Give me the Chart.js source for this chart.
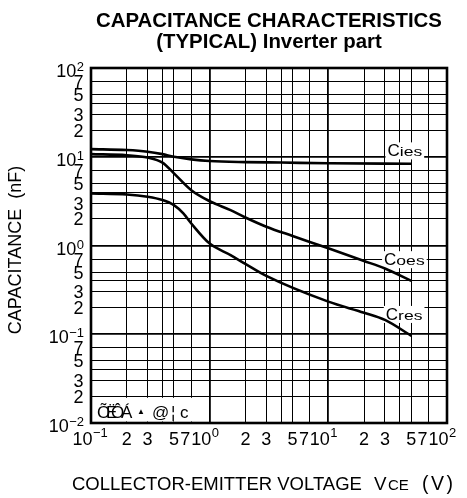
<!DOCTYPE html>
<html><head><meta charset="utf-8">
<script src="https://cdn.jsdelivr.net/npm/chart.js@4/dist/chart.umd.min.js"></script>
<style>html,body{margin:0;padding:0;background:#fff}#wrap{width:467px;height:498px}</style>
</head><body><div id="wrap"><canvas id="c" width="467" height="498"></canvas></div>
<script>
// ---- data ----
const ciesV = [0.1, 0.2, 0.3, 0.4, 0.5, 0.7, 1, 2, 4, 10, 50];
const ciesC = [12.2, 11.9, 11.4, 10.7, 10.0, 9.35, 8.95, 8.7, 8.6, 8.45, 8.35];
const coesV = [0.1, 0.2, 0.3, 0.4, 0.5, 0.7, 1, 1.5, 2, 3, 5, 10, 20, 30, 50];
const coesC = [10.7, 10.4, 9.8, 8.6, 6.5, 4.2, 3.16, 2.5, 2.07, 1.63, 1.28, 0.93, 0.67, 0.55, 0.40];
const cresV = [0.1, 0.2, 0.3, 0.4, 0.5, 0.6, 0.7, 1, 1.5, 2, 3, 10, 20, 30, 50];
const cresC = [3.86, 3.76, 3.54, 3.25, 2.85, 2.3, 1.77, 1.05, 0.78, 0.62, 0.454, 0.233, 0.175, 0.145, 0.096];
const seriesNames = ['Cies', 'Coes', 'Cres'];

const xTickValues = [0.1,0.2,0.3,0.4,0.5,0.7,1,2,3,4,5,7,10,20,30,40,50,70,100];
const xTickLabels = ['10^-1','2','3','','5','7','10^0','2','3','','5','7','10^1','2','3','','5','7','10^2'];
const yTickValues = [0.01,0.02,0.03,0.04,0.05,0.07,0.1,0.2,0.3,0.4,0.5,0.7,1,2,3,4,5,7,10,20,30,40,50,70,100];
const yTickLabels = ['10^-2','2','3','','5','7','10^-1','2','3','','5','7','10^0','2','3','','5','7','10^1','2','3','','5','7','10^2'];

const titleLines = ['CAPACITANCE CHARACTERISTICS', '(TYPICAL) Inverter part'];
const xTitle = ['COLLECTOR-EMITTER VOLTAGE', 'V', 'CE', '(V)'];
const yTitle = 'CAPACITANCE  (nF)';
const noteText = ['Õ','Ë','Ô','Á','▲','@','¦','c'];

const FONT = '"Liberation Sans", Arial, sans-serif';
const isDecade = v => Math.abs(Math.log10(v) - Math.round(Math.log10(v))) < 1e-9;

function mk(vs, cs){ return vs.map((v,i)=>({x:v, y:cs[i]})); }

const textPlugin = {
  id: 'textPlugin',
  beforeDatasetsDraw(chart){
    const {ctx, chartArea:a, scales:{x, y}} = chart;
    ctx.save();
    // series labels (white boxes hide grid, curves drawn on top)
    const labPos = [[31.5, 10.1], [29.5, 0.60], [30.5, 0.145]];
    seriesNames.forEach((name, i) => {
      const px = x.getPixelForValue(labPos[i][0]);
      const py = y.getPixelForValue(labPos[i][1]);
      ctx.font = '17px ' + FONT;
      const wC = ctx.measureText('C').width;
      ctx.font = '13px ' + FONT;
      const sub = name.slice(1);
      const sx = 1.35;
      const wS = ctx.measureText(sub).width * sx;
      ctx.fillStyle = '#fff';
      ctx.fillRect(px - 2, py - 14, wC + wS + 4, 17);
      ctx.fillStyle = '#000';
      ctx.font = '17px ' + FONT; ctx.textAlign = 'left'; ctx.textBaseline = 'alphabetic';
      ctx.fillText('C', px, py);
      ctx.save();
      ctx.translate(px + wC, py); ctx.scale(sx, 1);
      ctx.font = '13px ' + FONT;
      ctx.fillText(sub, 0, 0);
      ctx.restore();
    });

    // garbled note at bottom-left
    const y2 = y.getPixelForValue(0.02);
    ctx.fillStyle = '#fff';
    ctx.fillRect(a.left + 2, y2 + 1.5, 99, a.bottom - y2 - 3);
    ctx.fillStyle = '#000';
    const noteX = [97, 106, 111, 121, 137, 152, 171, 180];
    noteText.forEach((ch, i) => {
      ctx.font = (ch === '▲' ? '8px ' : '17px ') + FONT;
      ctx.textAlign = 'left';
      ctx.fillText(ch, noteX[i], ch === '▲' ? 414 : 418);
    });
    ctx.restore();
  },
  afterDraw(chart){
    const {ctx, chartArea:a, scales:{x, y}} = chart;
    ctx.save();
    // frame
    ctx.strokeStyle = '#000'; ctx.lineWidth = 2.6;
    ctx.strokeRect(a.left, a.top, a.right - a.left, a.bottom - a.top);

    ctx.fillStyle = '#000';
    ctx.textBaseline = 'alphabetic';
    // title
    ctx.font = 'bold 20.4px ' + FONT; ctx.textAlign = 'center';
    const cx = (a.left + a.right) / 2;
    ctx.fillText(titleLines[0], cx, 26.5);
    ctx.fillText(titleLines[1], cx, 48);

    // y tick labels
    yTickValues.forEach((v, i) => {
      const lab = yTickLabels[i]; if (!lab) return;
      const py = y.getPixelForValue(v);
      const xr = 84;
      if (lab.includes('^')) {
        const exp = lab.split('^')[1].replace('-', '\u2212');
        ctx.font = '13px ' + FONT; ctx.textAlign = 'right';
        const w = ctx.measureText(exp).width;
        ctx.fillText(exp, xr, py + 3);
        ctx.font = '18px ' + FONT;
        ctx.fillText('10', xr - w - 0.5, py + 9);
      } else {
        ctx.font = '18px ' + FONT; ctx.textAlign = 'right';
        ctx.fillText(lab, xr - 0.5, py + 6.5);
      }
    });

    // x tick labels
    xTickValues.forEach((v, i) => {
      const lab = xTickLabels[i]; if (!lab) return;
      const px = x.getPixelForValue(v);
      const base = 445;
      if (lab.includes('^')) {
        const exp = lab.split('^')[1].replace('-', '\u2212');
        ctx.font = '18px ' + FONT; ctx.textAlign = 'right';
        ctx.fillText('10', px + 1.5, base);
        ctx.font = '13px ' + FONT; ctx.textAlign = 'left';
        ctx.fillText(exp, px + 2, base - 8);
      } else {
        ctx.font = '18px ' + FONT; ctx.textAlign = 'center';
        const shift = lab === '7' ? -6 : 0;
        ctx.fillText(lab, px + shift, base);
      }
    });

    // x axis title
    ctx.textAlign = 'left';
    ctx.font = '18.5px ' + FONT; ctx.fillText(xTitle[0], 72, 490);
    ctx.font = '18.8px ' + FONT; ctx.fillText(xTitle[1], 374, 490);
    ctx.font = '15px ' + FONT; ctx.fillText(xTitle[2], 388, 490);
    ctx.font = '19.5px ' + FONT;
    ctx.letterSpacing = '2.5px';
    ctx.fillText(xTitle[3], 422, 490);
    ctx.letterSpacing = '0px';

    // y axis title
    ctx.save();
    ctx.translate(21, 250); ctx.rotate(-Math.PI / 2);
    ctx.font = '18px ' + FONT; ctx.textAlign = 'center';
    ctx.fillText(yTitle, 0, 0);
    ctx.restore();
    ctx.restore();
  }
};

const ds = (name, vs, cs) => ({
  label: name, data: mk(vs, cs), borderColor: '#000', borderWidth: 2.6,
  pointRadius: 0, fill: false, cubicInterpolationMode: 'monotone'
});

const gridOpts = {
  drawTicks: false,
  color: c => '#000',
  lineWidth: c => (c.tick && isDecade(c.tick.value)) ? 1.8 : 1
};

new Chart(document.getElementById('c'), {
  type: 'line',
  data: { datasets: [ds(seriesNames[0], ciesV, ciesC), ds(seriesNames[1], coesV, coesC), ds(seriesNames[2], cresV, cresC)] },
  plugins: [textPlugin],
  options: {
    responsive: false, animation: false, devicePixelRatio: 1,
    layout: { padding: { left: 91, top: 68, right: 20, bottom: 75 } },
    plugins: { legend: { display: false }, tooltip: { enabled: false }, title: { display: false } },
    scales: {
      x: { type: 'logarithmic', min: 0.1, max: 100,
           afterBuildTicks: s => { s.ticks = xTickValues.map(v => ({ value: v })); },
           ticks: { display: false }, grid: gridOpts, border: { display: false } },
      y: { type: 'logarithmic', min: 0.01, max: 100,
           afterBuildTicks: s => { s.ticks = yTickValues.map(v => ({ value: v })); },
           ticks: { display: false }, grid: gridOpts, border: { display: false } }
    }
  }
});
</script>
</body></html>
